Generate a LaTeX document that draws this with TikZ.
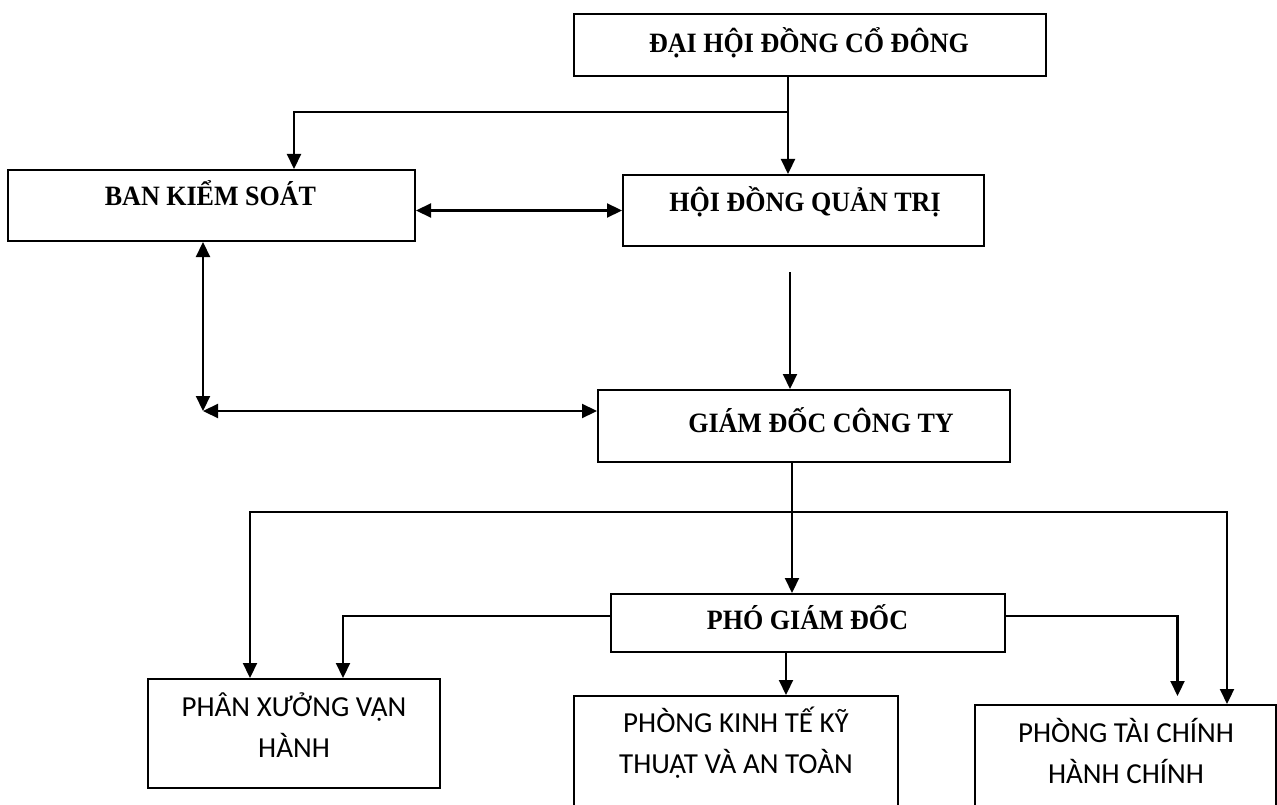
\documentclass[tikz,border=0pt]{standalone}
\usepackage{fontspec}
\setmainfont{Liberation Serif}
\newfontfamily\calfont{Carlito}
\usetikzlibrary{arrows.meta,calc}
\begin{document}
\begin{tikzpicture}[x=1pt,y=-1pt,
  box/.style={draw, line width=2pt, inner sep=0pt},
  ttl/.style={font=\fontsize{28}{32}\selectfont\bfseries, anchor=base, inner sep=0pt, xscale=0.93},
  sans/.style={font=\fontsize{29}{40}\selectfont\calfont, anchor=base, inner sep=0pt},
  >={Triangle[length=15pt,width=14pt]},
  arr/.style={line width=2.2pt, ->},
  darr/.style={line width=2.2pt, <->}]
\useasboundingbox (0,0) rectangle (1277,805);
\clip (0,0) rectangle (1277,805);
% boxes
\node[box, minimum width=472pt, minimum height=62pt] (dh) at (810,45) {};
\node[box, minimum width=407pt, minimum height=71pt] (bks) at (211.5,205.5) {};
\node[box, minimum width=361pt, minimum height=71pt] (hd) at (803.5,210.5) {};
\node[box, minimum width=412pt, minimum height=72pt] (gd) at (804,426) {};
\node[box, minimum width=394pt, minimum height=58pt] (pgd) at (808,623) {};
\node[box, minimum width=292pt, minimum height=109pt] (pxvh) at (294,733.5) {};
\node[box, minimum width=324pt, minimum height=116pt] (pk) at (736,754) {};
\node[box, minimum width=301pt, minimum height=107pt] (ptc) at (1125.5,758.5) {};
% texts
\node[ttl] (dht) at (809,53) {ĐẠI HỘI ĐỒNG CỔ ĐÔNG};
\node[ttl] (bkst) at (210.5,206) {BAN KIỂM SOÁT};
\node[ttl] (hdt) at (805,212) {HỘI ĐỒNG QUẢN TRỊ};
\node[ttl] (gdt) at (821,432) {GIÁM ĐỐC CÔNG TY};
\node[ttl] (pgdt) at (807.5,629) {PHÓ GIÁM ĐỐC};
\node[sans] (pxvh1) at (294,716) {PHÂN XƯỞNG VẬN};
\node[sans] (pxvh2) at (294,757) {HÀNH};
\node[sans] (pk1) at (736,732) {PHÒNG KINH TẾ KỸ};
\node[sans] (pk2) at (736,773) {THUẬT VÀ AN TOÀN};
\node[sans] (ptc1) at (1126,742) {PHÒNG TÀI CHÍNH};
\node[sans] (ptc2) at (1126,783) {HÀNH CHÍNH};
% connectors
\coordinate (j1) at (788,112);
\draw[arr] ([xshift=-22pt]dh.south) -- ([xshift=-22pt]dh.south |- hd.north);
\draw[arr] (j1) -| ([xshift=82.5pt]bks.north);
\draw[darr] (hd.west -| bks.east) -- (hd.west);
\coordinate (h1) at (790,272);
\draw[arr] (h1) -- (h1 |- gd.north);
\coordinate (c1) at (203,411);
\draw[darr] ([xshift=-8.5pt]bks.south) -- (c1);
\draw[darr] (c1) -- (c1 -| gd.west);
\draw[arr] ([xshift=-12pt]gd.south) -- ([xshift=-12pt]gd.south |- pgd.north);
\coordinate (j2) at (792,512);
\draw[arr] (j2) -| ([xshift=-44pt]pxvh.north);
\draw[arr] (j2) -| ([xshift=101.5pt]ptc.north);
\draw[arr] ([yshift=7pt]pgd.west) -| ([xshift=49pt]pxvh.north);
\draw[arr] ([xshift=-22pt]pgd.south) -- ([xshift=50pt]pk.north);
\draw[arr] ([yshift=7pt]pgd.east) -| ([xshift=52pt,yshift=8pt]ptc.north);
\end{tikzpicture}
\end{document}
